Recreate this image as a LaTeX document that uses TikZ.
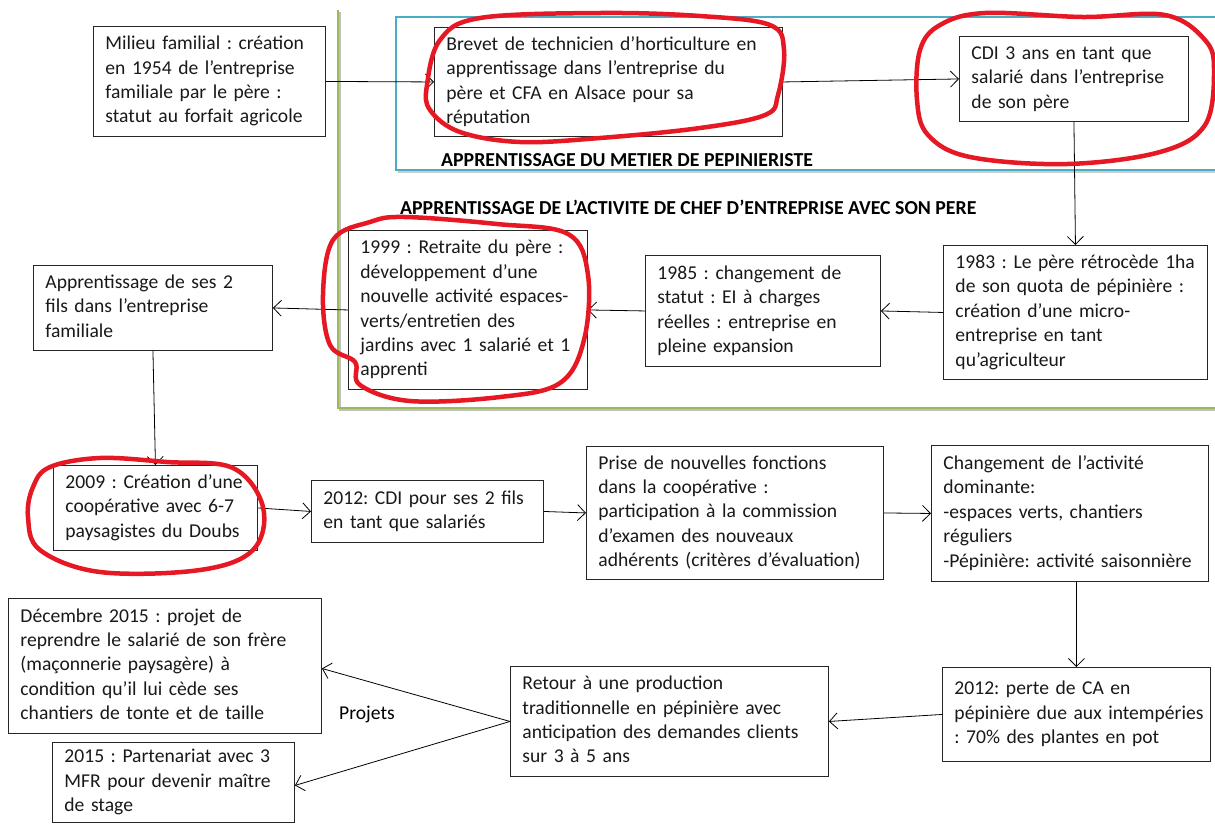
\documentclass[tikz,border=0pt]{standalone}
\usepackage{fontspec}
\setmainfont{Carlito}
\frenchspacing
\usetikzlibrary{arrows.meta}
\newcommand{\tb}[1]{\begin{tabular}{@{}l@{}}#1\end{tabular}}
\definecolor{framegreen}{RGB}{155,187,89}
\definecolor{frameblue}{RGB}{75,172,198}
\definecolor{markred}{RGB}{230,24,36}
\tikzset{
  boxnode/.style={draw=black!85, line width=0.9pt, anchor=north west, align=left,
    inner xsep=12pt, inner ysep=0pt, text=black!90,
    font=\fontsize{19.6}{24.4}\selectfont\frenchspacing},
  conn/.style={line width=0.8pt, -{Straight Barb[length=8pt,width=16pt,line width=0.8pt]}},
  sectlabel/.style={anchor=base west, inner sep=0pt, font=\fontsize{19.8}{24.4}\selectfont\bfseries},
  redmark/.style={draw=markred, line width=4.5pt, line join=round},
}
\newcommand{\bx}[6]{% name, x, y, W, H, text
  \pgfmathsetmacro{\tw}{#4-24}
  \node[boxnode, minimum width=#4pt, minimum height=#5pt, text width=\tw pt] (#1) at (#2,#3) {\tb{#6}};}
\begin{document}
\begin{tikzpicture}[x=1pt,y=-1pt]
\useasboundingbox (0,0) rectangle (1215,823);
\fill[white] (0,0) rectangle (1215,823);
% frames
\draw[black!25, line width=2pt] (340,12) -- (340,410) -- (1216,410);
\draw[framegreen, line width=2.5pt] (338,10) -- (338,408) -- (1216,408);
\draw[black!20, line width=1.5pt] (398,172) -- (1216,172);
\draw[frameblue, line width=1.4pt] (1216,17) -- (396,17) -- (396,170) -- (1216,170);
% section labels
\node[sectlabel] (lab1) at (441,166) {APPRENTISSAGE DU METIER DE PEPINIERISTE};
\node[sectlabel] (lab2) at (400,214) {APPRENTISSAGE DE L’ACTIVITE DE CHEF D’ENTREPRISE AVEC SON PERE};
% boxes
\bx{mil}{93}{26}{232}{110}{Milieu familial : création\\en 1954 de l’entreprise\\familiale par le père :\\statut au forfait agricole}
\bx{bre}{434}{27}{348}{109}{Brevet de technicien d’horticulture en\\apprentissage dans l’entreprise du\\père et CFA en Alsace pour sa\\réputation}
\bx{cdi}{959}{36}{229}{85}{CDI 3 ans en tant que\\salarié dans l’entreprise\\de son père}
\bx{c83}{943}{245}{264}{134}{1983 : Le père rétrocède 1ha\\de son quota de pépinière :\\création d’une micro-\\entreprise en tant\\qu’agriculteur}
\bx{c85}{645}{255}{235}{111}{1985 : changement de\\statut : EI à charges\\réelles : entreprise en\\pleine expansion}
\bx{c99}{348}{230}{239}{159}{1999 : Retraite du père :\\développement d’une\\nouvelle activité espaces-\\verts/entretien des\\jardins avec 1 salarié et 1\\apprenti}
\bx{fil}{33}{265}{239}{85}{Apprentissage de ses 2\\fils dans l’entreprise\\familiale}
\bx{c09}{53}{465}{204}{85}{2009 : Création d’une\\coopérative avec 6-7\\paysagistes du Doubs}
\bx{c12}{311}{480}{232}{62}{2012: CDI pour ses 2 fils\\en tant que salariés}
\bx{pri}{586}{446}{297}{133}{Prise de nouvelles fonctions\\dans la coopérative :\\participation à la commission\\d’examen des nouveaux\\adhérents (critères d’évaluation)}
\bx{chg}{931}{445}{277}{136}{Changement de l’activité\\dominante:\\-espaces verts, chantiers\\réguliers\\-Pépinière: activité saisonnière}
\bx{per}{942}{667}{268}{94}{2012: perte de CA en\\pépinière due aux intempéries\\: 70\% des plantes en pot}
\bx{ret}{510}{666}{318}{110}{Retour à une production\\traditionnelle en pépinière avec\\anticipation des demandes clients\\sur 3 à 5 ans}
\bx{dec}{8}{598}{313}{135}{Décembre 2015 : projet de\\reprendre le salarié de son frère\\(maçonnerie paysagère) à\\condition qu’il lui cède ses\\chantiers de tonte et de taille}
\bx{mfr}{52}{742}{242}{80}{2015 : Partenariat avec 3\\MFR pour devenir maître\\de stage}
\node[font=\fontsize{19.6}{24.4}\selectfont, inner sep=0pt] (proj) at (367,714) {Projets};
% connectors
\draw[conn] (mil.east) -- (bre.west);
\draw[conn] (bre.east) -- (cdi.west);
\draw[conn] (cdi.south) -- (c83.north);
\draw[conn] (c83.west) -- (c85.east);
\draw[conn] (c85.west) -- (c99.east);
\draw[conn] (c99.west) -- (fil.east);
\draw[conn] (fil.south) -- (c09.north);
\draw[conn] (c09.east) -- (c12.west);
\draw[conn] (c12.east) -- (pri.west);
\draw[conn] (pri.east) -- (chg.west);
\draw[conn] (chg.south -| per.north) -- (per.north);
\draw[conn] (per.west) -- (ret.east);
\draw[conn] (ret.west) -- ([yshift=-2.5pt]dec.east);
\draw[conn] (ret.west) -- ([yshift=-3pt]mfr.east);
% red hand-drawn marks
\draw[redmark] plot[smooth cycle, tension=0.6] coordinates {(440,40) (480,18) (600,13) (700,16) (770,25) (784,50) (778,95) (765,115) (700,128) (600,138) (520,142) (460,132) (430,110) (427,85)};
\draw[redmark] plot[smooth cycle, tension=0.6] coordinates {(920,50) (940,25) (985,13) (1083,17) (1165,15) (1205,40) (1214,70) (1205,125) (1160,152) (1067,164) (970,157) (928,135) (917,100)};
\draw[redmark] plot[smooth cycle, tension=0.6] coordinates {(333,240) (370,222) (405,217) (497,224) (568,234) (588,275) (584,340) (560,383) (500,397) (410,401) (360,385) (355,362) (330,345) (323,295)};
\draw[redmark] plot[smooth cycle, tension=0.6] coordinates {(50,467) (100,458) (167,462) (233,468) (263,507) (253,550) (200,570) (100,572) (40,550) (28,517) (33,487)};
\end{tikzpicture}
\end{document}
